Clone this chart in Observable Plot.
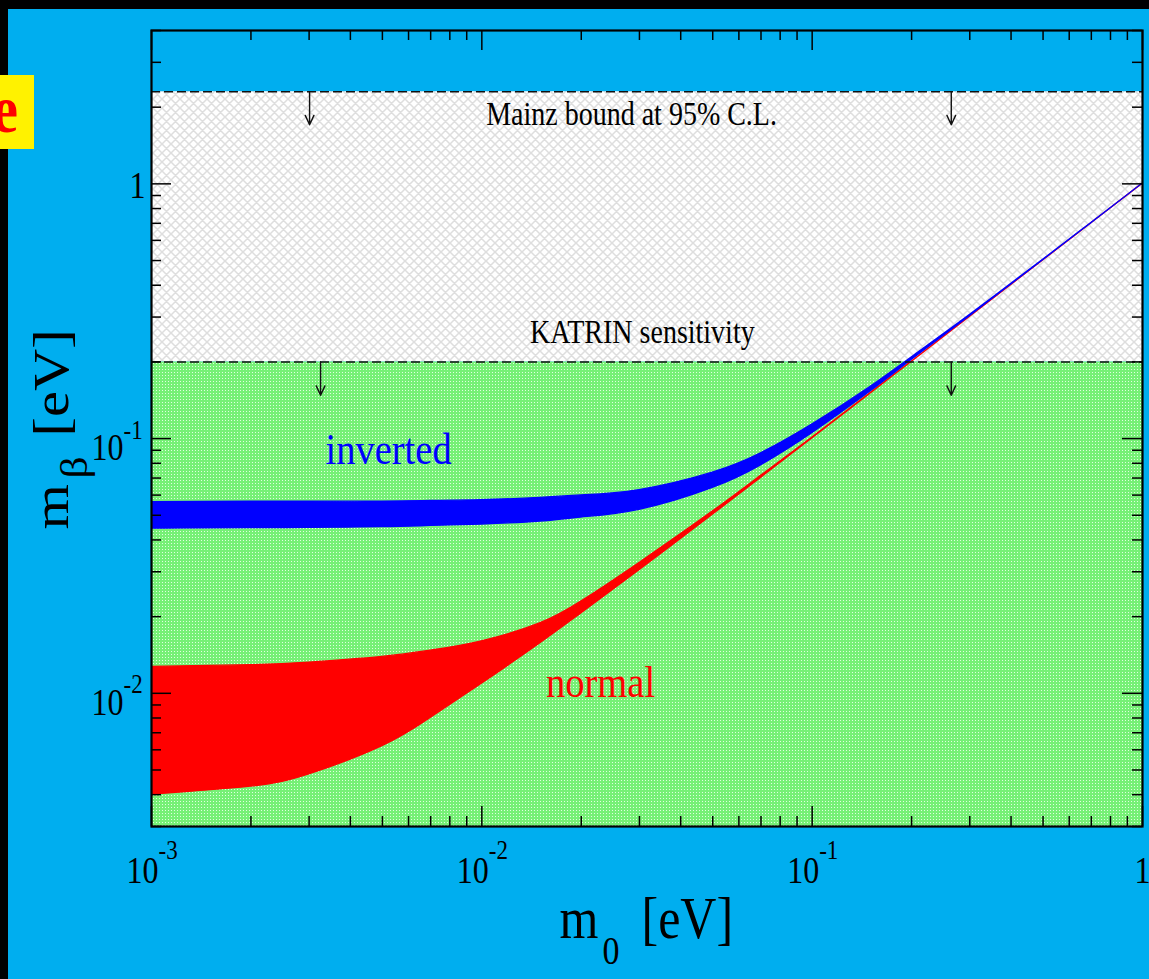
<!DOCTYPE html>
<html>
<head>
<meta charset="utf-8">
<script src="https://cdn.jsdelivr.net/npm/d3@7"></script>
<script src="https://cdn.jsdelivr.net/npm/@observablehq/plot@0.6"></script>
<style>
  html, body { margin: 0; padding: 0; background: #00AEEF; }
  body { width: 1149px; height: 979px; position: relative; overflow: hidden; }
  #chart { position: absolute; left: 0; top: 0; }
  .strip { position: absolute; background: #000; }
  #badge { position: absolute; left: 0; top: 75px; }
</style>
</head>
<body>
<div id="chart"></div>
<div class="strip" style="left:0;top:0;width:1149px;height:9px"></div>
<div class="strip" style="left:0;top:0;width:8px;height:979px"></div>
<svg id="badge" width="34" height="74">
  <rect width="34" height="74" fill="#FFF200"></rect>
  <text transform="translate(18,57) scale(1,1.17)" text-anchor="end" font-family="Liberation Serif" font-weight="bold" font-size="58" fill="#FF0000">e</text>
</svg>
<script>
// ---------------- data ----------------
// lightest neutrino mass m0 [eV]
const m0 = [0.001, 0.002, 0.003, 0.005, 0.007, 0.01, 0.015, 0.02, 0.03, 0.05, 0.07, 0.1, 0.15, 0.2, 0.3, 0.5, 0.7, 1];
// normal hierarchy band (m_beta, eV)
const normalLower = [0.0040, 0.0043, 0.0048, 0.0062, 0.0080, 0.0109, 0.0157, 0.0206, 0.0304, 0.0502, 0.0701, 0.1001, 0.1500, 0.2000, 0.3000, 0.5000, 0.7000, 1.0000];
const normalUpper = [0.0127, 0.0129, 0.0132, 0.0139, 0.0147, 0.0160, 0.0188, 0.0229, 0.0325, 0.0517, 0.0714, 0.1008, 0.1506, 0.2004, 0.3003, 0.5002, 0.7001, 1.0001];
// inverted hierarchy band (m_beta, eV)
const invertedLower = [0.0443, 0.0445, 0.0446, 0.0449, 0.0454, 0.0460, 0.0472, 0.0490, 0.0525, 0.0640, 0.0785, 0.1050, 0.1530, 0.2035, 0.3025, 0.5017, 0.7012, 1.0008];
const invertedUpper = [0.0563, 0.0565, 0.0565, 0.0566, 0.0569, 0.0573, 0.0585, 0.0598, 0.0628, 0.0735, 0.0875, 0.1135, 0.1595, 0.2082, 0.3055, 0.5032, 0.7022, 1.0015];

// experimental bounds (eV)
const mainzBound = 2.3;
const katrinSensitivity = 0.2;
// arrows hanging from the bounds: x position, start, end
const arrowX = [0.00301, 0.2637, 0.00325, 0.2637];
const arrowFrom = [2.3, 2.3, 0.2, 0.2];
const arrowTo = [1.707, 1.707, 0.148, 0.148];

// annotations
const noteText = ["Mainz bound at 95% C.L.", "KATRIN sensitivity"];
const noteX = [0.0284, 0.0306];
const noteY = [1.71, 0.238];
const bandText = ["inverted", "normal"];
const bandX = [0.00522, 0.02288];
const bandY = [0.0797, 0.00964];
const bandColor = ["#0000FF", "#FF0000"];

// axes
const xDomain = [0.001, 1];
const yDomain = [0.003, 4];
const xMajor = [0.001, 0.01, 0.1, 1];
const xMinor = [0.002, 0.003, 0.004, 0.005, 0.006, 0.007, 0.008, 0.009,
                0.02, 0.03, 0.04, 0.05, 0.06, 0.07, 0.08, 0.09,
                0.2, 0.3, 0.4, 0.5, 0.6, 0.7, 0.8, 0.9];
const yMajor = [0.01, 0.1, 1];
const yMinor = [0.003, 0.004, 0.005, 0.006, 0.007, 0.008, 0.009,
                0.02, 0.03, 0.04, 0.05, 0.06, 0.07, 0.08, 0.09,
                0.2, 0.3, 0.4, 0.5, 0.6, 0.7, 0.8, 0.9, 2, 3, 4];
const xPowTicks = [0.001, 0.01, 0.1];
const xPowBase = ["10", "10", "10"];
const xPowExp = ["-3", "-2", "-1"];
const yPowTicks = [0.1, 0.01];
const yPowBase = ["10", "10"];
const yPowExp = ["-1", "-2"];
const oneTick = [1];
const oneLabel = ["1"];

// ---------------- build ----------------
const W = 1149, H = 979, mL = 151, mR = 7, mT = 30, mB = 153;
const innerW = W - mL - mR, innerH = H - mT - mB;
const serif = "Liberation Serif";

const normal = m0.map((x, i) => ({x, lo: normalLower[i], hi: normalUpper[i]}));
const inverted = m0.map((x, i) => ({x, lo: invertedLower[i], hi: invertedUpper[i]}));
const arrows = arrowX.map((x, i) => ({x, from: arrowFrom[i], to: arrowTo[i]}));

const svg = Plot.plot({
  width: W, height: H,
  marginLeft: mL, marginRight: mR, marginTop: mT, marginBottom: mB,
  style: {background: "transparent", fontFamily: serif},
  x: {type: "log", domain: xDomain, axis: null},
  y: {type: "log", domain: yDomain, axis: null},
  marks: [
    // allowed region below KATRIN sensitivity
    Plot.rect([0], {x1: xDomain[0], x2: xDomain[1], y1: yDomain[0], y2: katrinSensitivity, fill: "url(#greenDots)"}),
    // region between KATRIN and Mainz
    Plot.rect([0], {x1: xDomain[0], x2: xDomain[1], y1: katrinSensitivity, y2: mainzBound, fill: "url(#crossHatch)"}),
    // bands
    Plot.areaY(normal, {x: "x", y1: "lo", y2: "hi", fill: "#FF0000", stroke: "#FF0000", strokeWidth: 1.3, curve: "natural", clip: true}),
    Plot.areaY(inverted, {x: "x", y1: "lo", y2: "hi", fill: "#0000FF", stroke: "#0000FF", strokeWidth: 1.3, curve: "natural", clip: true}),
    // bounds
    Plot.ruleY([mainzBound, katrinSensitivity], {stroke: "#111", strokeWidth: 1.5, strokeDasharray: "9,4"}),
    Plot.arrow(arrows, {x1: "x", x2: "x", y1: "from", y2: "to", stroke: "#111", strokeWidth: 1.4, headLength: 11, headAngle: 50}),
    // annotations
    Plot.text(noteText, {x: (d, i) => noteX[i], y: (d, i) => noteY[i], text: d => d, textAnchor: "middle", lineAnchor: "bottom", fontSize: 28, fontFamily: serif, fill: "#000"}),
    Plot.text(bandText, {x: (d, i) => bandX[i], y: (d, i) => bandY[i], text: d => d, textAnchor: "middle", lineAnchor: "bottom", fontSize: 38.5, fontFamily: serif, fill: (d, i) => bandColor[i]}),
    // ticks: bottom / top
    Plot.ruleX(xMajor, {x: d => d, insetTop: innerH - 20, stroke: "#000", strokeWidth: 1.5}),
    Plot.ruleX(xMinor, {x: d => d, insetTop: innerH - 10, stroke: "#000", strokeWidth: 1.5}),
    Plot.ruleX(xMajor, {x: d => d, insetBottom: innerH - 20, stroke: "#000", strokeWidth: 1.5}),
    Plot.ruleX(xMinor, {x: d => d, insetBottom: innerH - 10, stroke: "#000", strokeWidth: 1.5}),
    // ticks: left / right
    Plot.ruleY(yMajor, {y: d => d, insetRight: innerW - 20, stroke: "#000", strokeWidth: 1.5}),
    Plot.ruleY(yMinor, {y: d => d, insetRight: innerW - 10, stroke: "#000", strokeWidth: 1.5}),
    Plot.ruleY(yMajor, {y: d => d, insetLeft: innerW - 20, stroke: "#000", strokeWidth: 1.5}),
    Plot.ruleY(yMinor, {y: d => d, insetLeft: innerW - 10, stroke: "#000", strokeWidth: 1.5}),
    Plot.frame({stroke: "#000", strokeWidth: 2.2}),
    // x tick labels
    Plot.text(xPowTicks, {x: d => d, text: xPowBase, frameAnchor: "bottom", textAnchor: "end", lineAnchor: "bottom", dx: 7, dy: 56, fontSize: 32, fontFamily: serif, fill: "#000"}),
    Plot.text(xPowTicks, {x: d => d, text: xPowExp, frameAnchor: "bottom", textAnchor: "start", lineAnchor: "bottom", dx: 7, dy: 32, fontSize: 23, fontFamily: serif, fill: "#000"}),
    Plot.text(oneTick, {x: d => d, text: oneLabel, frameAnchor: "bottom", textAnchor: "middle", lineAnchor: "bottom", dy: 56, fontSize: 32, fontFamily: serif, fill: "#000"}),
    // y tick labels
    Plot.text(yPowTicks, {y: d => d, text: yPowBase, frameAnchor: "left", textAnchor: "end", lineAnchor: "bottom", dx: -28, dy: 21.5, fontSize: 32, fontFamily: serif, fill: "#000"}),
    Plot.text(yPowTicks, {y: d => d, text: yPowExp, frameAnchor: "left", textAnchor: "start", lineAnchor: "bottom", dx: -28, dy: 0, fontSize: 23, fontFamily: serif, fill: "#000"}),
    Plot.text(oneTick, {y: d => d, text: oneLabel, frameAnchor: "left", textAnchor: "end", lineAnchor: "bottom", dx: -6, dy: 14, fontSize: 32, fontFamily: serif, fill: "#000"}),
    // x title  m_0 [eV]
    Plot.text(["m"], {text: d => d, frameAnchor: "bottom-left", textAnchor: "start", lineAnchor: "bottom", dx: 408, dy: 111, fontSize: 50, fontFamily: serif, fill: "#000"}),
    Plot.text(["0"], {text: d => d, frameAnchor: "bottom-left", textAnchor: "start", lineAnchor: "bottom", dx: 451, dy: 137, fontSize: 34, fontFamily: serif, fill: "#000"}),
    Plot.text(["[eV]"], {text: d => d, frameAnchor: "bottom-left", textAnchor: "start", lineAnchor: "bottom", dx: 490, dy: 111, fontSize: 50, fontFamily: serif, fill: "#000"}),
    // y title  m_beta [eV]
    Plot.text(["m"], {text: d => d, frameAnchor: "left", rotate: -90, textAnchor: "start", lineAnchor: "bottom", dx: -84, dy: 101, fontSize: 50, fontFamily: serif, fill: "#000"}),
    Plot.text(["β"], {text: d => d, frameAnchor: "left", rotate: -90, textAnchor: "start", lineAnchor: "bottom", dx: -65, dy: 50, fontSize: 37, fontFamily: serif, fill: "#000"}),
    Plot.text(["[eV]"], {text: d => d, frameAnchor: "left", rotate: -90, textAnchor: "start", lineAnchor: "bottom", dx: -84, dy: 8, fontSize: 50, fontFamily: serif, fill: "#000"})
  ]
});

// fill patterns
const defs = d3.select(svg).insert("defs", ":first-child");
const g = defs.append("pattern").attr("id", "greenDots").attr("patternUnits", "userSpaceOnUse").attr("width", 3).attr("height", 3);
g.append("rect").attr("width", 3).attr("height", 3).attr("fill", "#76F076");
g.append("rect").attr("width", 1).attr("height", 1).attr("fill", "#E0FFE0");
const h = defs.append("pattern").attr("id", "crossHatch").attr("patternUnits", "userSpaceOnUse").attr("width", 9).attr("height", 9);
h.append("rect").attr("width", 9).attr("height", 9).attr("fill", "#FFFFFF");
h.append("path").attr("d", "M0,0L9,9M9,0L0,9M-2,2L2,-2M7,11L11,7M-2,7L2,11M7,-2L11,2")
  .attr("stroke", "#DEDEDE").attr("stroke-width", 1.5).attr("fill", "none");

// the original fonts are taller than they are wide
d3.select(svg).selectAll("text").each(function () {
  const t = this.getAttribute("transform") || "";
  this.setAttribute("transform", t + (t.includes("rotate") ? " scale(1.17,1)" : " scale(1,1.17)"));
});

document.getElementById("chart").appendChild(svg);
</script>
</body>
</html>
